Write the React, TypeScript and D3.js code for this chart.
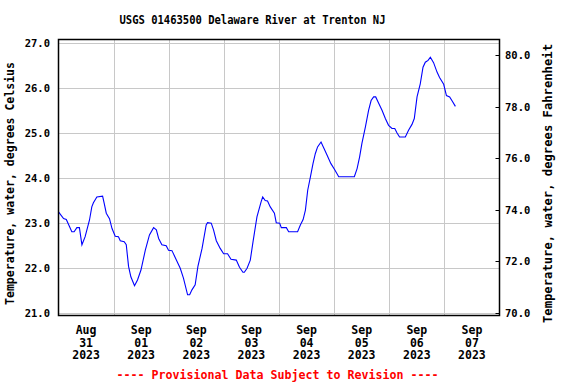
import React, { useEffect, useRef } from "react";
import * as d3 from "d3";

// hours since 2023-08-31 00:00 and water temperature in deg C
const hours = [
  0, 2.2, 3.4, 5.8, 6.8, 8.0, 9.1, 10.2, 11.6, 13.5, 14.5, 15.2, 16.7, 19.2, 19.9, 20.8,
  22.2, 23.3, 24.7, 26.1, 26.9, 28.6, 29.5, 30.5, 31.5, 33.1, 34.4, 35.9, 37.8, 39.6, 41.4,
  42.6, 43.6, 45.0, 46.9, 47.9, 49.4, 50.8, 53.0, 54.4, 56.2, 57.1, 58.1, 59.5, 60.7, 62.5,
  64.3, 64.9, 66.5, 67.5, 68.7, 70.4, 71.9, 73.6, 75.1, 77.4, 78.8, 80.3, 80.9, 82.1, 83.5,
  84.7, 86.4, 88.2, 88.9, 90.0, 91.0, 92.2, 94.0, 94.8, 96.3, 97.0, 99.2, 100.2, 104.1,
  105.3, 106.5, 107.5, 108.5, 109.7, 110.8, 111.8, 112.8, 114.3, 115.4, 116.9, 118.6, 120.2,
  122.0, 128.8, 130.0, 131.1, 132.1, 133.6, 135.0, 136.1, 137.2, 138.1, 139.4, 140.9, 142.3,
  143.7, 145.2, 146.4, 147.4, 148.5, 151.0, 152.4, 153.9, 154.9, 156.1, 157.5, 158.7, 159.7,
  160.9, 161.9, 163.3, 164.8, 165.9, 167.7, 168.9, 170.3, 171.4, 172.8,
];
const tempC = [
  23.25, 23.1, 23.08, 22.81, 22.81, 22.9, 22.9, 22.52, 22.7, 23.07, 23.36, 23.45, 23.58, 23.6,
  23.44, 23.22, 23.1, 22.88, 22.71, 22.7, 22.61, 22.59, 22.52, 22.04, 21.81, 21.61, 21.74,
  21.96, 22.4, 22.74, 22.9, 22.85, 22.66, 22.52, 22.5, 22.4, 22.39, 22.24, 22.0, 21.78, 21.41,
  21.41, 21.52, 21.63, 22.04, 22.44, 22.96, 23.01, 23.0, 22.85, 22.61, 22.44, 22.32, 22.32,
  22.2, 22.18, 22.02, 21.91, 21.91, 22.0, 22.18, 22.59, 23.14, 23.47, 23.58, 23.5, 23.49,
  23.36, 23.22, 23.01, 23.0, 22.9, 22.9, 22.81, 22.81, 22.96, 23.08, 23.29, 23.73, 24.03,
  24.32, 24.54, 24.69, 24.8, 24.68, 24.51, 24.32, 24.19, 24.03, 24.03, 24.21, 24.47, 24.77,
  25.13, 25.5, 25.72, 25.8, 25.8, 25.66, 25.5, 25.32, 25.17, 25.1, 25.1, 25.0, 24.91, 24.91,
  25.06, 25.19, 25.32, 25.8, 26.09, 26.46, 26.57, 26.61, 26.68, 26.56, 26.35, 26.23, 26.08,
  25.83, 25.8, 25.71, 25.59,
];

const dayTicks = [
  "2023-08-31", "2023-09-01", "2023-09-02", "2023-09-03",
  "2023-09-04", "2023-09-05", "2023-09-06", "2023-09-07",
];
const celsiusTicks = [21, 22, 23, 24, 25, 26, 27];
const fahrenheitTicks = [70, 72, 74, 76, 78, 80];

const title = "USGS 01463500 Delaware River at Trenton NJ";
const leftTitle = "Temperature, water, degrees Celsius";
const rightTitle = "Temperature, water, degrees Fahrenheit";
const footer = "---- Provisional Data Subject to Revision ----";

const FONT = "'DejaVu Sans Mono', 'Liberation Mono', monospace";

const App = () => {
  const svgRef = useRef<SVGSVGElement>(null);

  useEffect(() => {
    const svg = d3.select(svgRef.current);
    svg.selectAll("*").remove();

    const left = 58.5, right = 499.5, top = 39.5, bottom = 315.5;
    const start = new Date(Date.UTC(2023, 7, 31));
    const end = new Date(Date.UTC(2023, 8, 8));

    const x = d3.scaleUtc().domain([start, end]).range([left, right]);
    const yC = d3.scaleLinear().domain([21, 27]).range([313.3, 42.8]);
    const yF = d3.scaleLinear().domain([70, 80]).range([313, 55]);

    const data = hours.map((h, i) => ({
      t: new Date(start.getTime() + h * 3600 * 1000),
      v: tempC[i],
    }));
    const days = dayTicks.map((s) => new Date(s + "T00:00:00Z"));

    // grid
    const grid = svg.append("g").attr("stroke", "#c8c8c8").attr("stroke-width", 1);
    grid
      .selectAll(".hg")
      .data(celsiusTicks)
      .enter()
      .append("line")
      .attr("x1", left)
      .attr("x2", right)
      .attr("y1", (d) => Math.round(yC(d)) + 0.5)
      .attr("y2", (d) => Math.round(yC(d)) + 0.5);
    grid
      .selectAll(".vg")
      .data(days.slice(1))
      .enter()
      .append("line")
      .attr("x1", (d) => Math.round(x(d)) + 0.5)
      .attr("x2", (d) => Math.round(x(d)) + 0.5)
      .attr("y1", top)
      .attr("y2", bottom);

    // line
    const line = d3
      .line<{ t: Date; v: number }>()
      .x((d) => x(d.t))
      .y((d) => yC(d.v));
    svg
      .append("path")
      .datum(data)
      .attr("d", line)
      .attr("fill", "none")
      .attr("stroke", "#0000ff")
      .attr("stroke-width", 1.1);

    // frame
    svg
      .append("rect")
      .attr("x", left)
      .attr("y", top)
      .attr("width", right - left)
      .attr("height", bottom - top)
      .attr("fill", "none")
      .attr("stroke", "black")
      .attr("stroke-width", 1.5);

    // right ticks
    svg
      .selectAll(".rt")
      .data(fahrenheitTicks)
      .enter()
      .append("line")
      .attr("x1", right - 4)
      .attr("x2", right)
      .attr("y1", (d) => Math.round(yF(d)) + 0.5)
      .attr("y2", (d) => Math.round(yF(d)) + 0.5)
      .attr("stroke", "black");

    const text = svg
      .append("g")
      .attr("font-family", FONT)
      .attr("font-weight", "bold")
      .attr("fill", "black");

    text
      .selectAll(".lt")
      .data(celsiusTicks)
      .enter()
      .append("text")
      .attr("x", 50)
      .attr("y", (d) => yC(d) + 4)
      .attr("text-anchor", "end")
      .attr("font-size", 10.5)
      .text((d) => d.toFixed(1));

    text
      .selectAll(".rl")
      .data(fahrenheitTicks)
      .enter()
      .append("text")
      .attr("x", 505)
      .attr("y", (d) => yF(d) + 4)
      .attr("font-size", 10.5)
      .text((d) => d.toFixed(1));

    const fmt = [d3.utcFormat("%b"), d3.utcFormat("%d"), d3.utcFormat("%Y")];
    const xl = text
      .selectAll(".xl")
      .data(days)
      .enter()
      .append("text")
      .attr("text-anchor", "middle")
      .attr("font-size", 11.5);
    fmt.forEach((f, i) => {
      xl.append("tspan")
        .attr("x", (d) => x(d3.utcHour.offset(d, 12)))
        .attr("y", 334 + i * 12.7)
        .text((d) => f(d));
    });

    text
      .append("text")
      .attr("x", 252.5)
      .attr("y", 24)
      .attr("text-anchor", "middle")
      .attr("font-size", 11.5)
      .attr("textLength", 266)
      .attr("lengthAdjust", "spacingAndGlyphs")
      .text(title);

    text
      .append("text")
      .attr("transform", "translate(14,183.5) rotate(-90)")
      .attr("text-anchor", "middle")
      .attr("font-size", 11.5)
      .attr("textLength", 243)
      .attr("lengthAdjust", "spacingAndGlyphs")
      .text(leftTitle);

    text
      .append("text")
      .attr("transform", "translate(552,183.5) rotate(-90)")
      .attr("text-anchor", "middle")
      .attr("font-size", 12)
      .attr("textLength", 279)
      .attr("lengthAdjust", "spacingAndGlyphs")
      .text(rightTitle);

    text
      .append("text")
      .attr("x", 277.5)
      .attr("y", 378.5)
      .attr("text-anchor", "middle")
      .attr("font-size", 11.6)
      .attr("fill", "#ff0000")
      .attr("textLength", 322)
      .attr("lengthAdjust", "spacingAndGlyphs")
      .text(footer);
  }, []);

  return (
    <svg
      ref={svgRef}
      width={576}
      height={384}
      style={{ position: "absolute", left: 0, top: 0, background: "white" }}
    />
  );
};

export default App;
